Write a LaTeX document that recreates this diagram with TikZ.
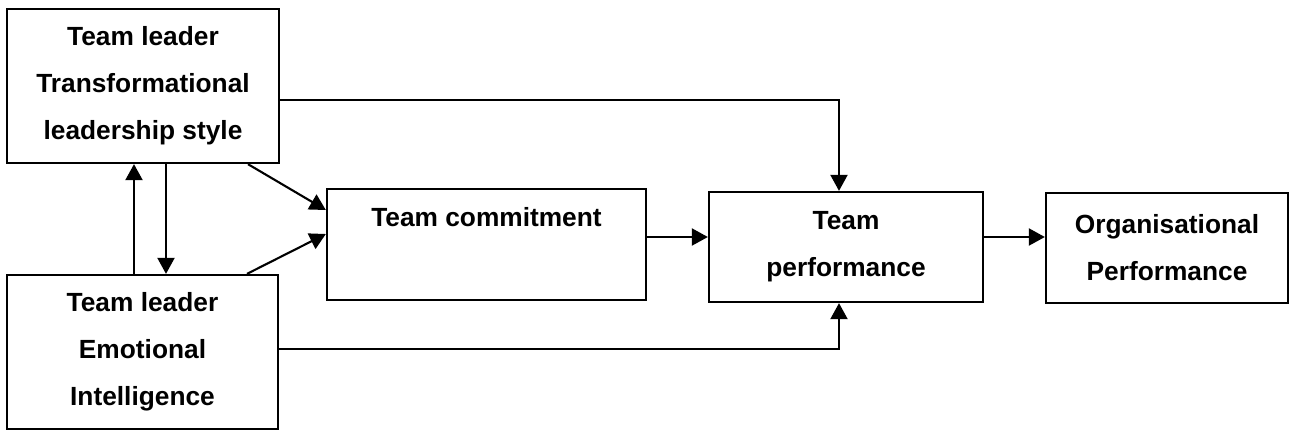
\documentclass[tikz,border=0pt]{standalone}
\usepackage{fontspec}
\setmainfont{Liberation Sans}
\usetikzlibrary{arrows.meta}
\begin{document}
\begin{tikzpicture}[x=1pt,y=-1pt,
  box/.style={draw, line width=2.3pt, inner sep=0pt, align=center,
    font=\bfseries\fontsize{26.3}{47}\selectfont},
  txt/.style={inner sep=0pt, font=\bfseries\fontsize{26.3}{47}\selectfont},
  link/.style={line width=2.1pt, -{Triangle[length=16pt,width=17pt]}}]
\useasboundingbox (0,0) rectangle (1296,432);

% boxes
\node[box, minimum width=272pt, minimum height=154pt] (A) at (143,86)
  {Team leader\\Transformational\\leadership style};
\node[box, minimum width=271pt, minimum height=154pt] (B) at (142.5,352)
  {Team leader\\Emotional\\Intelligence};
\node[box, minimum width=319pt, minimum height=111pt] (C) at (486.5,244.5) {};
\node[txt, anchor=base] (Ct) at (486.5,226) {Team commitment};
\node[box, minimum width=274pt, minimum height=110pt] (D) at (846,247)
  {Team\\performance};
\node[box, minimum width=242pt, minimum height=110pt] (E) at (1167,248)
  {Organisational\\Performance};

% turning points of the long connectors
\coordinate (ta) at (839,100);
\coordinate (tb) at (839,349);

% connectors
\draw[link] (A.south -| 166,0) -- (B.north -| 166,0);
\draw[link] (B.north -| 134,0) -- (A.south -| 134,0);
\draw[link] (A.south -| 248,0) -- (C.west |- 0,210);
\draw[link] (B.north -| 247,0) -- (C.west |- 0,234);
\draw[link] (A.east |- ta) -- (ta) -- (D.north -| ta);
\draw[link] (B.east |- tb) -- (tb) -- (D.south -| tb);
\draw[link] (C.east |- 0,237) -- (D.west |- 0,237);
\draw[link] (D.east |- 0,237) -- (E.west |- 0,237);
\end{tikzpicture}
\end{document}
